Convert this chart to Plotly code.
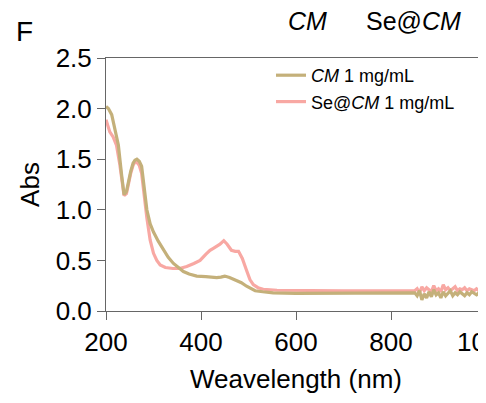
import plotly.graph_objects as go

# ---- data ----
cm_wl = [200, 205, 212, 219, 226, 233, 238, 243, 247, 252, 257, 261, 265, 270, 275, 282, 286, 293,
         300, 310, 321, 331, 342, 352, 363, 375, 391, 410, 433, 442, 450, 460, 475, 485, 496, 505,
         514, 530, 552, 600, 700, 800, 846,
         850, 855, 860, 865, 870, 875, 880, 885, 890, 895, 900, 905, 910, 915, 920, 925, 930, 935,
         940, 945, 950, 955, 960, 965, 970, 975, 980, 985, 990, 995, 1000]
cm_abs = [2.02, 2.00, 1.94, 1.80, 1.64, 1.34, 1.15, 1.18, 1.28, 1.38, 1.46, 1.49, 1.50, 1.48, 1.43, 1.18, 1.00, 0.86,
          0.78, 0.69, 0.60, 0.53, 0.47, 0.43, 0.39, 0.365, 0.345, 0.34, 0.33, 0.335, 0.345, 0.33, 0.305, 0.28, 0.245, 0.22,
          0.20, 0.19, 0.18, 0.175, 0.175, 0.175, 0.175,
          0.18, 0.15, 0.20, 0.11, 0.17, 0.13, 0.19, 0.14, 0.21, 0.16, 0.18, 0.13, 0.19, 0.15, 0.17, 0.20,
          0.15, 0.18, 0.16, 0.19, 0.17, 0.15, 0.18, 0.16, 0.19, 0.17, 0.16, 0.18, 0.17, 0.16, 0.17]

se_wl = [200, 204, 208, 215, 222, 229, 234, 238, 243, 247, 252, 257, 261, 265, 270, 275, 281, 286, 293,
         300, 307, 314, 325, 341, 355, 370, 385, 398, 410, 419, 426, 433, 440, 448, 455, 464, 472, 479,
         487, 496, 503, 510, 520, 531, 560, 700, 846,
         850, 855, 860, 865, 870, 875, 880, 885, 890, 895, 900, 905, 910, 915, 920, 925, 930, 935,
         940, 945, 950, 955, 960, 965, 970, 975, 980, 985, 990, 995, 1000]
se_abs = [1.89, 1.82, 1.77, 1.72, 1.64, 1.45, 1.25, 1.14, 1.16, 1.26, 1.36, 1.44, 1.47, 1.47, 1.44, 1.36, 1.10, 0.92, 0.70,
          0.57, 0.50, 0.455, 0.43, 0.42, 0.42, 0.44, 0.47, 0.50, 0.56, 0.60, 0.62, 0.64, 0.66, 0.695, 0.66, 0.60, 0.59, 0.59,
          0.52, 0.40, 0.31, 0.26, 0.23, 0.215, 0.205, 0.20, 0.20,
          0.20, 0.22, 0.18, 0.24, 0.20, 0.23, 0.21, 0.19, 0.25, 0.20, 0.22, 0.19, 0.26, 0.21, 0.23, 0.20,
          0.22, 0.24, 0.20, 0.22, 0.21, 0.23, 0.20, 0.22, 0.21, 0.20, 0.22, 0.20, 0.21, 0.20, 0.20]

x_ticks = [200, 400, 600, 800, 1000]
y_ticks = [0.0, 0.5, 1.0, 1.5, 2.0, 2.5]

FONT = "Liberation Sans, Arial, sans-serif"
TAN = "#C4B07A"
PINK = "#F8A8A3"

# page body has an 8px margin; lay out in page pixels and shift into the div
OFF = 8
W, H = 486 - OFF, 403 - OFF
L, T = 106 - OFF, 58 - OFF
R, B = 0, H - (311 - OFF)
pw, ph = W - L - R, H - T - B


def px2paper(px, py):
    return (px - OFF - L) / pw, 1 + (T - (py - OFF)) / ph


fig = go.Figure()
fig.add_trace(go.Scatter(x=se_wl, y=se_abs, mode="lines", name="Se@<i>CM</i> 1 mg/mL",
                         line=dict(color=PINK, width=3.2), legendrank=2))
fig.add_trace(go.Scatter(x=cm_wl, y=cm_abs, mode="lines", name="<i>CM</i> 1 mg/mL",
                         line=dict(color=TAN, width=3.2), legendrank=1))

lx, ly = px2paper(271, 57)
annots = []
for text, x, y, size in [("F", 24, 32, 28), ("<i>CM</i>", 307, 21, 25), ("Se@<i>CM</i>", 413, 21, 25)]:
    ax, ay = px2paper(x, y)
    annots.append(dict(text=text, x=ax, y=ay, xref="paper", yref="paper", showarrow=False,
                       font=dict(size=size), xanchor="center", yanchor="middle"))

fig.update_layout(
    width=W, height=H,
    margin=dict(l=L, r=R, t=T, b=B, autoexpand=False),
    paper_bgcolor="white", plot_bgcolor="white",
    font=dict(family=FONT, size=26, color="black"),
    showlegend=True,
    legend=dict(x=lx, y=ly, xanchor="left", yanchor="top",
                font=dict(size=18, family=FONT, color="black"),
                bgcolor="rgba(0,0,0,0)", tracegroupgap=0, itemwidth=30),
    xaxis=dict(range=[200, 1000], tickvals=x_ticks, ticktext=[str(v) for v in x_ticks],
               showgrid=False, zeroline=False, showline=True, linecolor="#666", linewidth=1,
               mirror=True, ticks="outside", ticklen=8, tickcolor="#666",
               ticklabeloverflow="allow", automargin=False,
               title=dict(text="Weavelength (nm)", font=dict(size=26), standoff=13)),
    yaxis=dict(range=[0, 2.5], tickvals=y_ticks, ticktext=[f"{v:.1f}" for v in y_ticks],
               showgrid=False, zeroline=False, showline=True, linecolor="#666", linewidth=1,
               ticks="outside", ticklen=8, tickcolor="#666", automargin=False,
               title=dict(text="Abs", font=dict(size=26), standoff=8)),
    annotations=annots,
)

fig.write_html("out.html")
